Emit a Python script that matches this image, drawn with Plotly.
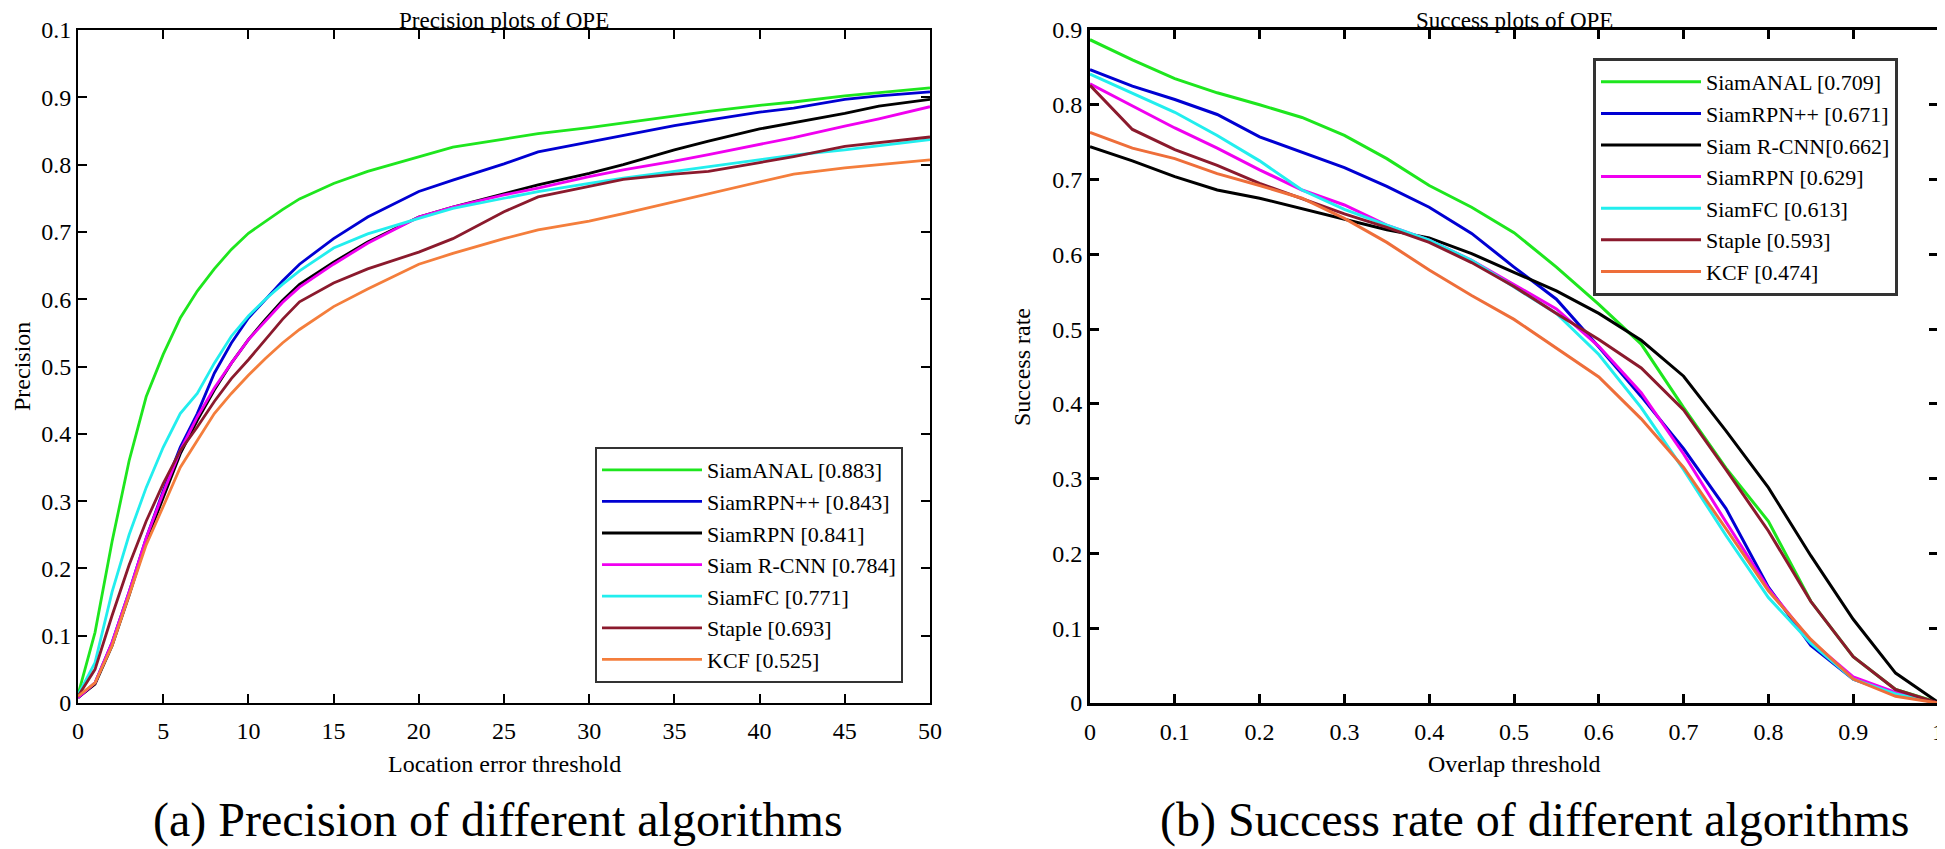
import plotly.graph_objects as go

# ---------------- data: precision plot (left) ----------------
prec_x = [0, 1, 2, 3, 4, 5, 6, 7, 8, 9, 10, 11, 12, 13, 15, 17, 20, 22, 25, 27, 30, 32, 35, 37, 40, 42, 45, 47, 50]

prec_siamanal = [0.012, 0.105, 0.24, 0.36, 0.455, 0.518, 0.572, 0.612, 0.645, 0.674, 0.698, 0.716, 0.733, 0.749, 0.772,
                 0.79, 0.812, 0.826, 0.838, 0.846, 0.855, 0.862, 0.872, 0.879, 0.888, 0.893, 0.902, 0.907, 0.914]
prec_siamrpnpp = [0.008, 0.03, 0.09, 0.165, 0.245, 0.315, 0.38, 0.43, 0.49, 0.535, 0.572, 0.60, 0.627, 0.652, 0.69,
                  0.722, 0.76, 0.777, 0.801, 0.819, 0.834, 0.843, 0.858, 0.866, 0.878, 0.884, 0.897, 0.902, 0.908]
prec_siamrpn = [0.008, 0.028, 0.085, 0.16, 0.24, 0.305, 0.37, 0.42, 0.465, 0.505, 0.54, 0.57, 0.598, 0.622, 0.655,
                0.685, 0.722, 0.737, 0.757, 0.77, 0.787, 0.80, 0.822, 0.835, 0.853, 0.862, 0.876, 0.887, 0.897]
prec_siamrcnn = [0.008, 0.03, 0.09, 0.165, 0.245, 0.312, 0.375, 0.425, 0.468, 0.505, 0.54, 0.568, 0.595, 0.618, 0.652,
                 0.683, 0.722, 0.737, 0.755, 0.765, 0.782, 0.792, 0.805, 0.815, 0.83, 0.84, 0.857, 0.868, 0.886]
prec_siamfc = [0.012, 0.06, 0.165, 0.25, 0.32, 0.38, 0.43, 0.46, 0.505, 0.545, 0.575, 0.60, 0.622, 0.642, 0.676,
               0.697, 0.72, 0.735, 0.75, 0.76, 0.772, 0.78, 0.79, 0.797, 0.807, 0.814, 0.822, 0.828, 0.837]
prec_staple = [0.01, 0.05, 0.13, 0.205, 0.27, 0.326, 0.375, 0.41, 0.448, 0.482, 0.51, 0.54, 0.57, 0.596, 0.624,
               0.645, 0.67, 0.69, 0.73, 0.752, 0.768, 0.778, 0.786, 0.79, 0.803, 0.812, 0.827, 0.833, 0.841]
prec_kcf = [0.01, 0.03, 0.085, 0.16, 0.235, 0.292, 0.35, 0.39, 0.43, 0.46, 0.487, 0.512, 0.535, 0.555, 0.589,
            0.615, 0.652, 0.668, 0.69, 0.703, 0.716, 0.727, 0.745, 0.757, 0.775, 0.786, 0.795, 0.80, 0.807]

prec_names = ["SiamANAL [0.883]", "SiamRPN++ [0.843]", "SiamRPN [0.841]", "Siam R-CNN [0.784]",
              "SiamFC [0.771]", "Staple [0.693]", "KCF [0.525]"]

# ---------------- data: success plot (right) ----------------
succ_x = [0, 0.05, 0.1, 0.15, 0.2, 0.25, 0.3, 0.35, 0.4, 0.45, 0.5, 0.55, 0.6, 0.65, 0.7, 0.75, 0.8, 0.85, 0.9, 0.95, 1.0]

succ_siamanal = [0.887, 0.860, 0.835, 0.816, 0.800, 0.783, 0.759, 0.728, 0.692, 0.663, 0.629, 0.583, 0.533, 0.480,
                 0.395, 0.314, 0.243, 0.136, 0.062, 0.018, 0.001]
succ_siamrpnpp = [0.847, 0.825, 0.807, 0.787, 0.757, 0.737, 0.716, 0.691, 0.663, 0.628, 0.583, 0.540, 0.476, 0.410,
                  0.340, 0.260, 0.155, 0.077, 0.032, 0.012, 0.0]
succ_siamrcnn = [0.744, 0.725, 0.704, 0.686, 0.675, 0.661, 0.648, 0.633, 0.622, 0.601, 0.576, 0.551, 0.521, 0.485,
                 0.437, 0.364, 0.288, 0.197, 0.112, 0.040, 0.001]
succ_siamrpn = [0.828, 0.798, 0.769, 0.742, 0.713, 0.686, 0.666, 0.639, 0.619, 0.592, 0.560, 0.527, 0.477, 0.415,
                0.333, 0.242, 0.153, 0.083, 0.035, 0.014, 0.0]
succ_siamfc = [0.841, 0.816, 0.790, 0.759, 0.725, 0.686, 0.660, 0.639, 0.619, 0.592, 0.557, 0.521, 0.466, 0.395,
               0.312, 0.224, 0.141, 0.080, 0.032, 0.012, 0.0]
succ_staple = [0.826, 0.767, 0.740, 0.719, 0.695, 0.675, 0.654, 0.636, 0.616, 0.589, 0.557, 0.521, 0.486, 0.448,
               0.392, 0.312, 0.230, 0.136, 0.062, 0.018, 0.0]
succ_kcf = [0.763, 0.742, 0.728, 0.708, 0.692, 0.675, 0.648, 0.616, 0.579, 0.545, 0.513, 0.474, 0.436, 0.380,
            0.315, 0.233, 0.150, 0.085, 0.032, 0.009, 0.0]

succ_names = ["SiamANAL [0.709]", "SiamRPN++ [0.671]", "Siam R-CNN[0.662]", "SiamRPN [0.629]",
              "SiamFC [0.613]", "Staple [0.593]", "KCF [0.474]"]

colors = ["#1EE61E", "#0000D2", "#000000", "#F000F0", "#22EEEE", "#8B1A2D", "#F47E3C"]

prec_ticks = [0, 0.1, 0.2, 0.3, 0.4, 0.5, 0.6, 0.7, 0.8, 0.9, 1.0]
prec_ticktext = ["0", "0.1", "0.2", "0.3", "0.4", "0.5", "0.6", "0.7", "0.8", "0.9", "0.1"]
prec_xticks = [0, 5, 10, 15, 20, 25, 30, 35, 40, 45, 50]
succ_yticks = [0, 0.1, 0.2, 0.3, 0.4, 0.5, 0.6, 0.7, 0.8, 0.9]
succ_yticktext = ["0", "0.1", "0.2", "0.3", "0.4", "0.5", "0.6", "0.7", "0.8", "0.9"]
succ_xticks = [0, 0.1, 0.2, 0.3, 0.4, 0.5, 0.6, 0.7, 0.8, 0.9, 1.0]
succ_xticktext = ["0", "0.1", "0.2", "0.3", "0.4", "0.5", "0.6", "0.7", "0.8", "0.9", "1"]

FONT = "Liberation Serif"
# the page body adds an 8px offset; the figure is sized so it fits the 1945x849 window
OFF = 8
W, H = 1945 - OFF, 849 - OFF

fig = go.Figure()

prec_series = [prec_siamanal, prec_siamrpnpp, prec_siamrpn, prec_siamrcnn, prec_siamfc, prec_staple, prec_kcf]
for name, ys, c in zip(prec_names, prec_series, colors):
    fig.add_trace(go.Scatter(x=prec_x, y=ys, name=name, mode="lines",
                             line=dict(color=c, width=2.8), xaxis="x", yaxis="y", legend="legend"))

succ_series = [succ_siamanal, succ_siamrpnpp, succ_siamrcnn, succ_siamrpn, succ_siamfc, succ_staple, succ_kcf]
succ_colors = [colors[0], colors[1], colors[2], colors[3], colors[4], colors[5], "#EE6E3A"]
for name, ys, c in zip(succ_names, succ_series, succ_colors):
    fig.add_trace(go.Scatter(x=succ_x, y=ys, name=name, mode="lines",
                             line=dict(color=c, width=3), xaxis="x2", yaxis="y2", legend="legend2"))

def px_x(p):
    return (p - OFF) / W

def px_y(p):
    return 1 - (p - OFF) / H

tickfont = dict(family=FONT, size=24, color="black")

common_axis = dict(showgrid=False, zeroline=False, showline=True, linecolor="black", automargin=False,
                   ticks="inside", mirror="ticks", tickcolor="black", tickfont=tickfont)

legend_font = dict(family=FONT, size=22, color="black")

fig.update_layout(
    width=W, height=H,
    margin=dict(l=0, r=0, t=0, b=0, autoexpand=False),
    paper_bgcolor="white", plot_bgcolor="white",
    font=dict(family=FONT, color="black"),
    xaxis=dict(domain=[px_x(78), px_x(930)], range=[0, 50], tickvals=prec_xticks, ticklabelstandoff=5,
               linewidth=2, tickwidth=2, ticklen=9, anchor="y", **common_axis),
    yaxis=dict(domain=[px_y(703), px_y(30)], range=[0, 1], tickvals=prec_ticks, ticktext=prec_ticktext,
               linewidth=2, tickwidth=2, ticklen=9, anchor="x", **common_axis),
    xaxis2=dict(domain=[px_x(1090), px_x(1938)], range=[0, 1], tickvals=succ_xticks, ticktext=succ_xticktext,
                ticklabelstandoff=5, linewidth=3, tickwidth=3, ticklen=9, anchor="y2", **common_axis),
    yaxis2=dict(domain=[px_y(703), px_y(30)], range=[0, 0.9], tickvals=succ_yticks, ticktext=succ_yticktext,
                linewidth=3, tickwidth=3, ticklen=9, anchor="x2", **common_axis),
    legend=dict(x=px_x(903), y=px_y(683), xanchor="right", yanchor="bottom",
                bgcolor="white", bordercolor="#333333", borderwidth=2,
                font=legend_font, itemwidth=100, tracegroupgap=0),
    legend2=dict(x=px_x(1898), y=px_y(58), xanchor="right", yanchor="top",
                 bgcolor="white", bordercolor="#333333", borderwidth=3,
                 font=legend_font, itemwidth=100, tracegroupgap=0),
    showlegend=True,
)

annos = [
    dict(text="Precision plots of OPE", x=px_x(504), y=px_y(21), size=23, angle=0),
    dict(text="Success plots of OPE", x=px_x(1514), y=px_y(21), size=23, angle=0),
    dict(text="Location error threshold", x=px_x(504), y=px_y(764), size=24, angle=0),
    dict(text="Overlap threshold", x=px_x(1514), y=px_y(764), size=24, angle=0),
    dict(text="Precision", x=px_x(22), y=px_y(367), size=24, angle=-90),
    dict(text="Success rate", x=px_x(1022), y=px_y(367), size=24, angle=-90),
    dict(text="(a) Precision of different algorithms", x=px_x(498), y=px_y(820), size=48, angle=0),
    dict(text="(b) Success rate of different algorithms", x=px_x(1535), y=px_y(820), size=48, angle=0),
]
for a in annos:
    fig.add_annotation(text=a["text"], x=a["x"], y=a["y"], xref="paper", yref="paper",
                       xanchor="center", yanchor="middle", showarrow=False, textangle=a["angle"],
                       font=dict(family=FONT, size=a["size"], color="black"))

fig.write_html("out.html")
